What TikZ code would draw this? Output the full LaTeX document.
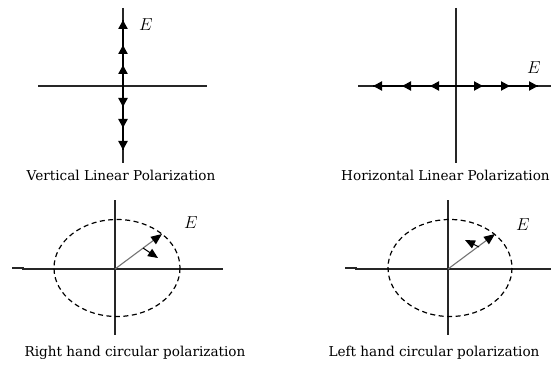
\documentclass[tikz,border=0pt]{standalone}
\usepackage{fontspec}
\newfontfamily\capfont{DejaVu Serif}
\usetikzlibrary{arrows.meta}
\begin{document}
\begin{tikzpicture}[x=1pt,y=-1pt,
  axisline/.style={line width=1.1pt,black!85},
  fieldline/.style={line width=2.6pt,black},
  hd/.style={-{Triangle[length=9pt,width=9pt]}},
  vecline/.style={line width=1.1pt,black!55,-{Triangle[length=11pt,width=9pt,color=black]}},
  smallvec/.style={line width=1.1pt,black,-{Triangle[length=10pt,width=8.5pt]}},
  ellline/.style={line width=1.2pt,dash pattern=on 5pt off 3.5pt},
  captxt/.style={font=\capfont\fontsize{13.6}{15}\selectfont,inner sep=0pt},
  labtxt/.style={font=\fontsize{17}{18}\selectfont,inner sep=0pt}]
\useasboundingbox (0,0) rectangle (551,366);
% ---------- panel 1: vertical
\coordinate (o1) at (123,86);
\draw[axisline] (38,86) -- (207,86);
\draw[axisline] (123,8) -- (123,163);
\draw[fieldline] (123,20) -- (123,150);
\foreach \a/\b in {86/65,65/45,45/20}
  \draw[fieldline,hd] (123,\a) -- (123,\b);
\foreach \a/\b in {86/107,107/128,128/150}
  \draw[fieldline,hd] (123,\a) -- (123,\b);
\node[labtxt] (e1) at (146,25) {$E$};
\node[captxt] (c1) at (121,175) {Vertical Linear Polarization};
% ---------- panel 2: horizontal
\coordinate (o2) at (456,86);
\draw[axisline] (456,8) -- (456,163);
\draw[axisline] (358,86) -- (551,86);
\draw[line width=2pt] (373,86) -- (538,86);
\foreach \a/\b in {456/430,430/402,402/373}
  \draw[line width=2pt,hd] (\a,86) -- (\b,86);
\foreach \a/\b in {456/483,483/510,510/538}
  \draw[line width=2pt,hd] (\a,86) -- (\b,86);
\node[labtxt] (e2) at (534,68) {$E$};
\node[captxt,anchor=west] (c2) at (341,175) {Horizontal Linear Polarization};
% ---------- panel 3: right hand circular
\coordinate (o3) at (115,269);
\draw[axisline] (12,268) -- (23,268) -- (23,269) -- (223,269);
\draw[axisline] (115,200) -- (115,335);
\draw[ellline] (117,268) ellipse [x radius=63, y radius=48.5];
\coordinate (t3) at (162,234);
\draw[vecline] (o3) -- (t3);
\coordinate (s3) at (143,248);
\coordinate (u3) at (158,258);
\draw[smallvec] (s3) -- (u3);
\node[labtxt] (e3) at (191,223) {$E$};
\node[captxt] (c3) at (135,353) {Right hand circular polarization};
% ---------- panel 4: left hand circular
\coordinate (o4) at (448,269);
\draw[axisline] (345,268) -- (356,268) -- (356,269) -- (551,269);
\draw[axisline] (448,200) -- (448,335);
\draw[ellline] (450,268) ellipse [x radius=62, y radius=48.5];
\coordinate (t4) at (495,234);
\draw[vecline] (o4) -- (t4);
\coordinate (s4) at (479,247);
\coordinate (u4) at (465,240);
\draw[smallvec] (s4) -- (u4);
\node[labtxt] (e4) at (523,225) {$E$};
\node[captxt] (c4) at (434,353) {Left hand circular polarization};
\end{tikzpicture}
\end{document}
